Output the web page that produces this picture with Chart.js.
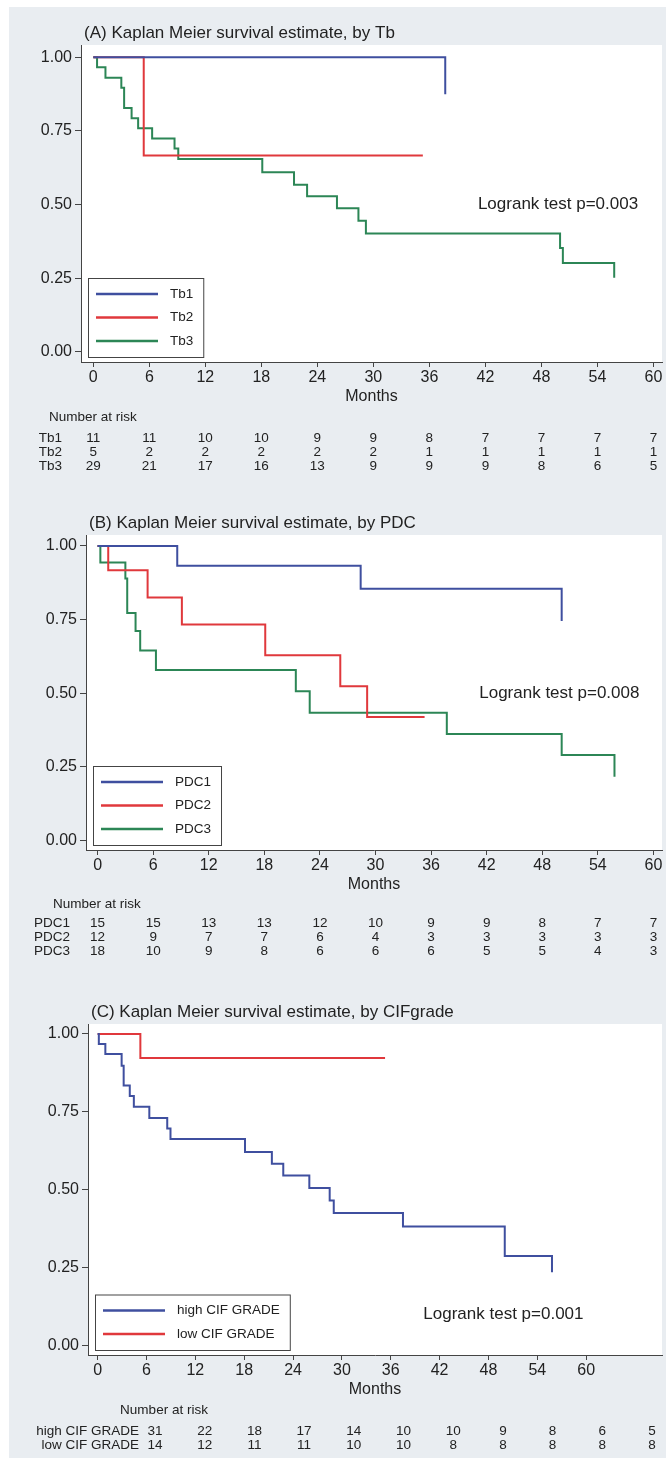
<!DOCTYPE html>
<html>
<head>
<meta charset="utf-8">
<script src="https://cdn.jsdelivr.net/npm/chart.js@4.4.1/dist/chart.umd.min.js"></script>
<style>
  body { margin: 0; background: #fff; }
  canvas { display: block; }
</style>
</head>
<body>
<canvas id="chartA" width="671" height="490"></canvas>
<canvas id="chartB" width="671" height="490"></canvas>
<canvas id="chartC" width="671" height="485"></canvas>

<script>
// ---- data ----
const monthTicks = [0, 6, 12, 18, 24, 30, 36, 42, 48, 54, 60];
const survTicks = [0, 0.25, 0.5, 0.75, 1];
const riskAt = [0, 6, 12, 18, 24, 30, 36, 42, 48, 54, 60];

// (A) by Tb
const tb1Time = [0, 37.7];
const tb1Surv = [1, 0.875];
const tb2Time = [0, 5.4, 35.3];
const tb2Surv = [1, 0.667, 0.667];
const tb3Time = [0, 0.4, 1.3, 3.0, 3.3, 4.1, 4.8, 6.3, 8.7, 9.1, 18.1, 21.5, 22.9, 26.1, 28.4, 29.2, 50.0, 50.3, 55.8];
const tb3Surv = [1, 0.966, 0.931, 0.897, 0.828, 0.793, 0.759, 0.724, 0.690, 0.655, 0.610, 0.567, 0.528, 0.487, 0.445, 0.402, 0.352, 0.301, 0.251];
const riskTb1 = [11, 11, 10, 10, 9, 9, 8, 7, 7, 7, 7];
const riskTb2 = [5, 2, 2, 2, 2, 2, 1, 1, 1, 1, 1];
const riskTb3 = [29, 21, 17, 16, 13, 9, 9, 9, 8, 6, 5];

// (B) by PDC
const pdc1Time = [0, 8.6, 28.4, 50.1];
const pdc1Surv = [1, 0.933, 0.855, 0.745];
const pdc2Time = [0, 1.15, 5.4, 9.1, 18.1, 26.2, 29.1, 35.3];
const pdc2Surv = [1, 0.917, 0.825, 0.733, 0.629, 0.524, 0.419, 0.419];
const pdc3Time = [0, 0.3, 3.0, 3.2, 4.1, 4.6, 6.3, 21.4, 22.9, 37.7, 50.1, 55.8];
const pdc3Surv = [1, 0.944, 0.889, 0.772, 0.711, 0.645, 0.579, 0.507, 0.434, 0.362, 0.290, 0.217];
const riskPdc1 = [15, 15, 13, 13, 12, 10, 9, 9, 8, 7, 7];
const riskPdc2 = [12, 9, 7, 7, 6, 4, 3, 3, 3, 3, 3];
const riskPdc3 = [18, 10, 9, 8, 6, 6, 6, 5, 5, 4, 3];

// (C) by CIF grade
const highTime = [0, 0.15, 0.95, 2.95, 3.2, 3.95, 4.45, 6.35, 8.55, 8.95, 18.1, 21.4, 22.8, 26.0, 28.5, 29.0, 37.5, 50.0, 55.8];
const highSurv = [1, 0.968, 0.936, 0.898, 0.835, 0.801, 0.767, 0.731, 0.697, 0.663, 0.622, 0.584, 0.546, 0.506, 0.466, 0.426, 0.383, 0.288, 0.236];
const lowTime = [0, 5.25, 35.3];
const lowSurv = [1, 0.923, 0.923];
const riskHigh = [31, 22, 18, 17, 14, 10, 10, 9, 8, 6, 5];
const riskLow = [14, 12, 11, 11, 10, 10, 8, 8, 8, 8, 8];

const fam = '"Liberation Sans", Arial, Helvetica, sans-serif';
const ink = '#222';
const axisCol = '#444';
const blue = '#3f4f9f';
const red = '#e0383c';
const green = '#2c8656';

function pts(t, s) {
    return t.map((v, i) => ({ x: v, y: s[i] }));
}

function km(label, t, s, color) {
    return {
        label: label,
        data: pts(t, s),
        borderColor: color,
        borderWidth: 2,
        stepped: 'before',
        pointRadius: 0,
        fill: false
    };
}

// panel background, legend box, logrank note and number-at-risk table
const kmExtras = {
    id: 'kmExtras',
    beforeDraw(chart, args, o) {
        const { ctx, chartArea: a } = chart;
        ctx.save();
        ctx.fillStyle = '#e9edf1';
        ctx.fillRect(9, o.bgTop, 657, o.bgBottom - o.bgTop);
        ctx.fillStyle = '#ffffff';
        ctx.fillRect(a.left, a.top, a.right - a.left, a.bottom - a.top);
        ctx.restore();
    },
    afterDraw(chart, args, o) {
        const { ctx, chartArea: a, scales } = chart;
        const xs = scales.x, ys = scales.y, rs = scales[o.riskAxis];
        const ds = chart.data.datasets;
        ctx.save();
        ctx.textBaseline = 'middle';
        ctx.fillStyle = ink;
        ctx.font = '17px ' + fam;
        ctx.textAlign = 'left';
        ctx.fillText(o.title, a.left + 3, a.top - 12);
        ctx.fillText(o.logrank, xs.getPixelForValue(o.lrAt[0]), ys.getPixelForValue(o.lrAt[1]));

        // legend
        ctx.font = '13.5px ' + fam;
        const tw = Math.max(...ds.map(d => ctx.measureText(d.label).width));
        const bh = 32 + (ds.length - 1) * 23.5;
        const bx = a.left + 7, by = a.bottom - 5 - bh, bw = 82 + tw + 10;
        ctx.fillStyle = '#fff';
        ctx.fillRect(bx, by, bw, bh);
        ctx.strokeStyle = axisCol;
        ctx.lineWidth = 1;
        ctx.strokeRect(bx + 0.5, by + 0.5, bw, bh);
        ds.forEach((d, i) => {
            const yy = by + 16 + i * 23.5;
            ctx.strokeStyle = d.borderColor;
            ctx.lineWidth = 2.5;
            ctx.beginPath();
            ctx.moveTo(bx + 8, yy);
            ctx.lineTo(bx + 70, yy);
            ctx.stroke();
            ctx.fillStyle = ink;
            ctx.fillText(d.label, bx + 82, yy);
        });

        // number at risk
        const base = a.bottom;
        ctx.fillStyle = ink;
        ctx.textAlign = o.narAlign;
        ctx.fillText('Number at risk', o.narX, base + o.narDy);
        o.riskRows.forEach((row, i) => {
            const yy = base + o.rowDy + i * 14;
            ctx.textAlign = 'right';
            ctx.fillText(ds[i].label, o.rowLabelRight, yy);
            ctx.textAlign = 'center';
            row.forEach((n, j) => ctx.fillText(String(n), rs.getPixelForValue(riskAt[j]), yy));
        });
        ctx.restore();
    }
};
Chart.register(kmExtras);

function makeChart(id, cfg) {
    const scales = {
        x: {
            type: 'linear',
            min: cfg.xr[0], max: cfg.xr[1],
            afterBuildTicks: s => { s.ticks = monthTicks.map(v => ({ value: v })); },
            afterFit: s => { s.height = 44; },
            grid: { drawOnChartArea: false, drawTicks: true, tickLength: 5, color: axisCol },
            border: { display: true, color: axisCol, width: 1 },
            ticks: { color: ink, font: { size: 16, family: fam }, padding: 1, maxRotation: 0, autoSkip: false },
            title: { display: true, text: 'Months', color: ink, font: { size: 16, family: fam }, padding: 0 }
        },
        y: {
            type: 'linear',
            min: cfg.yr[0], max: cfg.yr[1],
            afterBuildTicks: s => { s.ticks = survTicks.map(v => ({ value: v })); },
            afterFit: s => { s.width = cfg.left; },
            grid: { drawOnChartArea: false, drawTicks: true, tickLength: 6, color: axisCol },
            border: { display: true, color: axisCol, width: 1 },
            ticks: { color: ink, font: { size: 16, family: fam }, padding: 3, callback: v => v.toFixed(2) }
        }
    };
    if (cfg.riskRange) {
        // hidden axis that spaces the at-risk columns in panel C
        scales.xRisk = { type: 'linear', axis: 'x', position: 'bottom', display: false, min: cfg.riskRange[0], max: cfg.riskRange[1] };
    }
    return new Chart(document.getElementById(id), {
        type: 'line',
        data: { datasets: cfg.datasets },
        options: {
            responsive: false,
            animation: false,
            layout: { padding: { top: cfg.top, right: 9, bottom: cfg.bottom, left: 0 } },
            scales: scales,
            plugins: {
                legend: { display: false },
                tooltip: { enabled: false },
                kmExtras: cfg.extras
            }
        }
    });
}

makeChart('chartA', {
    xr: [-1.32, 60.92], yr: [-0.035, 1.042], left: 81, top: 45, bottom: 84,
    datasets: [km('Tb1', tb1Time, tb1Surv, blue), km('Tb2', tb2Time, tb2Surv, red), km('Tb3', tb3Time, tb3Surv, green)],
    extras: {
        bgTop: 7, bgBottom: 490,
        title: '(A) Kaplan Meier survival estimate, by Tb',
        logrank: 'Logrank test p=0.003', lrAt: [41.2, 0.5],
        riskAxis: 'x', riskRows: [riskTb1, riskTb2, riskTb3],
        narX: 49, narAlign: 'left', narDy: 55, rowDy: 76, rowLabelRight: 62
    }
});

makeChart('chartB', {
    xr: [-1.25, 60.93], yr: [-0.032, 1.037], left: 86, top: 45, bottom: 86,
    datasets: [km('PDC1', pdc1Time, pdc1Surv, blue), km('PDC2', pdc2Time, pdc2Surv, red), km('PDC3', pdc3Time, pdc3Surv, green)],
    extras: {
        bgTop: 0, bgBottom: 490,
        title: '(B) Kaplan Meier survival estimate, by PDC',
        logrank: 'Logrank test p=0.008', lrAt: [41.2, 0.5],
        riskAxis: 'x', riskRows: [riskPdc1, riskPdc2, riskPdc3],
        narX: 53, narAlign: 'left', narDy: 54, rowDy: 73, rowLabelRight: 70
    }
});

makeChart('chartC', {
    xr: [-1.18, 69.31], yr: [-0.029, 1.032], left: 88, top: 44, bottom: 66,
    riskRange: [-8.09, 61.21],
    datasets: [km('high CIF GRADE', highTime, highSurv, blue), km('low CIF GRADE', lowTime, lowSurv, red)],
    extras: {
        bgTop: 0, bgBottom: 478,
        title: '(C) Kaplan Meier survival estimate, by CIFgrade',
        logrank: 'Logrank test p=0.001', lrAt: [40, 0.1],
        riskAxis: 'xRisk', riskRows: [riskHigh, riskLow],
        narX: 164, narAlign: 'center', narDy: 55, rowDy: 76, rowLabelRight: 139
    }
});
</script>
</body>
</html>
